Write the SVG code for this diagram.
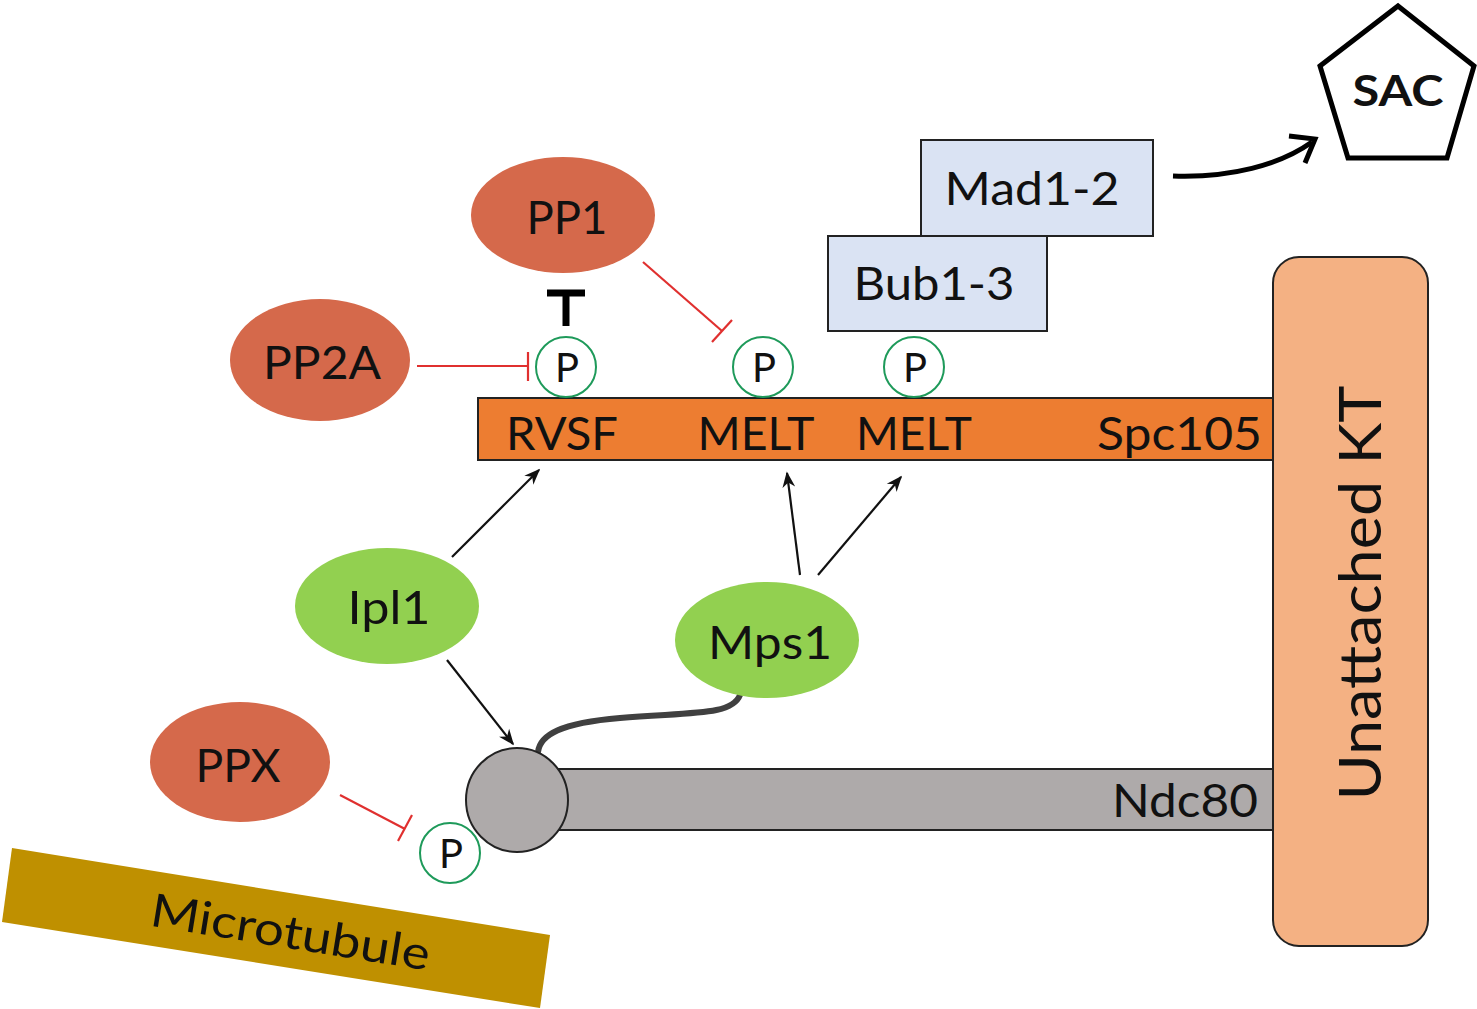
<svg xmlns="http://www.w3.org/2000/svg" width="1477" height="1009" viewBox="0 0 1477 1009">
<style>
text{font-family:Lato,"Liberation Sans",sans-serif;fill:#111;}
.pp{fill:#D5694B;}
.kin{fill:#92D050;}
.lbl{font-size:46px;text-anchor:middle;}
.box{fill:#DAE3F3;stroke:#222;stroke-width:2;}
.pc{fill:#fff;stroke:#1E9A5A;stroke-width:2;}
.pt{font-size:40px;text-anchor:middle;}
.inh{stroke:#E0302F;stroke-width:2.2;fill:none;}
.act{stroke:#111;stroke-width:2.2;fill:none;marker-end:url(#ah);}
</style>
<defs>
<marker id="ah" viewBox="0 0 10 10" refX="9" refY="5" markerWidth="16" markerHeight="16" markerUnits="userSpaceOnUse" orient="auto">
<path d="M0,1 L10,5 L0,9 L3,5 z" fill="#111"/>
</marker>
</defs>
<rect width="1477" height="1009" fill="#fff"/>

<g id="microtubule">
<polygon points="12,848 550,935 540,1008 2,922" fill="#BF9000"/>
<text transform="translate(288,948) rotate(9.2)" font-size="46" text-anchor="middle" textLength="282" lengthAdjust="spacingAndGlyphs">Microtubule</text>
</g>

<g id="unattached-kt">
<rect x="1273" y="257" width="155" height="689" rx="26" fill="#F4B183" stroke="#222" stroke-width="2"/>
<text transform="translate(1381,593) rotate(-90)" font-size="58" text-anchor="middle" textLength="415" lengthAdjust="spacingAndGlyphs">Unattached KT</text>
</g>

<g id="spc105">
<rect x="478" y="398" width="795" height="62" fill="#ED7D31" stroke="#222" stroke-width="2"/>
<text x="562" y="450" font-size="46" text-anchor="middle" textLength="112" lengthAdjust="spacingAndGlyphs">RVSF</text>
<text x="756" y="450" font-size="46" text-anchor="middle" textLength="117" lengthAdjust="spacingAndGlyphs">MELT</text>
<text x="914" y="450" font-size="46" text-anchor="middle" textLength="116" lengthAdjust="spacingAndGlyphs">MELT</text>
<text x="1262" y="450" font-size="46" text-anchor="end" textLength="165" lengthAdjust="spacingAndGlyphs">Spc105</text>
</g>

<g id="ndc80">
<rect x="540" y="769" width="733" height="61" fill="#AEAAAA" stroke="#222" stroke-width="2"/>
<text x="1258" y="817" font-size="46" text-anchor="end" textLength="146" lengthAdjust="spacingAndGlyphs">Ndc80</text>
</g>

<g id="connectors">
<path d="M740,695 C732,716 690,712 620,718 C560,723 540,735 538,752" fill="none" stroke="#404040" stroke-width="6" stroke-linecap="round"/>
<line class="act" x1="452" y1="557" x2="539" y2="470"/>
<line class="act" x1="447" y1="660" x2="513" y2="744"/>
<line class="act" x1="800" y1="575" x2="787" y2="473"/>
<line class="act" x1="818" y1="575" x2="901" y2="477"/>
<line class="inh" x1="417" y1="366" x2="528" y2="366"/>
<line class="inh" x1="528" y1="352" x2="528" y2="381"/>
<line class="inh" x1="643" y1="262" x2="722" y2="331"/>
<line class="inh" x1="732" y1="320" x2="712" y2="342"/>
<line class="inh" x1="340" y1="795" x2="405" y2="829"/>
<line class="inh" x1="412" y1="815" x2="398" y2="841"/>
<path d="M566,296 L566,326" stroke="#000" stroke-width="7"/>
<path d="M547,293 L585,293" stroke="#000" stroke-width="7"/>
<path d="M1173,176 C1230,178 1280,165 1312,142" fill="none" stroke="#000" stroke-width="5"/>
<path d="M1289,136 L1315,139 L1305,163" fill="none" stroke="#000" stroke-width="5" stroke-linejoin="miter"/>
</g>

<g id="ndc80-head">
<ellipse cx="517" cy="800" rx="51" ry="52" fill="#AEAAAA" stroke="#222" stroke-width="2"/>
</g>

<g id="pp1"><ellipse class="pp" cx="563" cy="215" rx="92" ry="58"/><text class="lbl" x="567" y="234" textLength="81" lengthAdjust="spacingAndGlyphs">PP1</text></g>
<g id="pp2a"><ellipse class="pp" cx="320" cy="360" rx="90" ry="61"/><text class="lbl" x="322" y="379" textLength="118" lengthAdjust="spacingAndGlyphs">PP2A</text></g>
<g id="ppx"><ellipse class="pp" cx="240" cy="762" rx="90" ry="60"/><text class="lbl" x="238" y="782" textLength="85" lengthAdjust="spacingAndGlyphs">PPX</text></g>
<g id="ipl1"><ellipse class="kin" cx="387" cy="606" rx="92" ry="58"/><text class="lbl" x="389" y="624" textLength="83" lengthAdjust="spacingAndGlyphs">Ipl1</text></g>
<g id="mps1"><ellipse class="kin" cx="767" cy="640" rx="92" ry="58"/><text class="lbl" x="770" y="659" textLength="124" lengthAdjust="spacingAndGlyphs">Mps1</text></g>

<g id="p-rvsf"><circle class="pc" cx="566" cy="367" r="30"/><text class="pt" x="567" y="382">P</text></g>
<g id="p-melt1"><circle class="pc" cx="763" cy="367" r="30"/><text class="pt" x="764" y="382">P</text></g>
<g id="p-melt2"><circle class="pc" cx="914" cy="367" r="30"/><text class="pt" x="915" y="382">P</text></g>
<g id="p-ndc80"><circle class="pc" cx="450" cy="853" r="30"/><text class="pt" x="451" y="868">P</text></g>

<g id="bub1-3"><rect class="box" x="828" y="236" width="219" height="95"/><text class="lbl" x="934" y="300" textLength="161" lengthAdjust="spacingAndGlyphs">Bub1-3</text></g>
<g id="mad1-2"><rect class="box" x="921" y="140" width="232" height="96"/><text class="lbl" x="1032" y="205" textLength="175" lengthAdjust="spacingAndGlyphs">Mad1-2</text></g>

<g id="sac">
<polygon points="1398,6 1474,66 1447,158 1348,158 1320,66" fill="#fff" stroke="#000" stroke-width="5" stroke-linejoin="miter"/>
<text x="1398" y="106" font-size="42" font-weight="bold" text-anchor="middle" textLength="91" lengthAdjust="spacingAndGlyphs">SAC</text>
</g>
</svg>
